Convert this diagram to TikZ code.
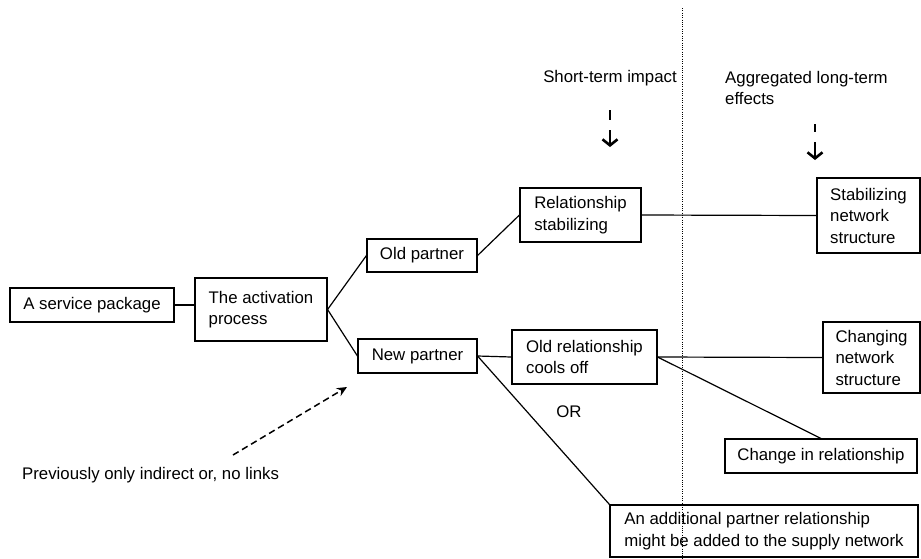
\documentclass[tikz,border=0pt]{standalone}
\usepackage{fontspec}
\setmainfont{Liberation Sans}
\usetikzlibrary{arrows.meta}

\begin{document}
\begin{tikzpicture}[x=1pt,y=-1pt,
  box/.style={draw,line width=1.1pt,align=left,inner sep=0pt,font=\fontsize{16.8}{21.5}\selectfont},
  lbl/.style={align=left,inner sep=0pt,font=\fontsize{16.8}{21.5}\selectfont},
  link/.style={line width=1.2pt},
  cue/.style={line width=2.6pt,-{Straight Barb[length=6pt,width=15pt]}}]
  \useasboundingbox (0,0) rectangle (921,558);
  % the offer and what it starts
  \node[box,minimum width=164,minimum height=34] (pkg) at (92,305) {A service package};
  \node[box,minimum width=132,minimum height=63] (act) at (261,309.5) {The activation\\process};
  \node[box,minimum width=110,minimum height=33] (old) at (422,255.5) {Old partner};
  \node[box,minimum width=119,minimum height=34] (newp) at (417.5,356) {New partner};
  % short-term impact
  \node[box,minimum width=121,minimum height=54] (rstab) at (580.5,215) {Relationship\\stabilizing};
  \node[box,minimum width=145,minimum height=54] (cool) at (584.5,357) {Old relationship\\cools off};
  % aggregated long-term effects
  \node[box,minimum width=103,minimum height=75] (snet) at (868.5,215.5) {Stabilizing\\network\\structure};
  \node[box,minimum width=97,minimum height=71] (cnet) at (871.5,357.5) {Changing\\network\\structure};
  \node[box,minimum width=192,minimum height=34] (chrel) at (821,456) {Change in relationship};
  \node[box,minimum width=308,minimum height=52] (addl) at (764,531) {An additional partner relationship\\might be added to the supply network};
  % links between the boxes
  \draw[link] (pkg.east) -- (pkg.east -| act.west);
  \draw[link] (act.east) -- (old.west);
  \draw[link] (act.east) -- (newp.west);
  \draw[link] (old.east) -- (rstab.west);
  \draw[link] (newp.east) -- (cool.west);
  \draw[link] (newp.east) -- (addl.north west);
  \draw[link] (rstab.east) -- (snet.west);
  \draw[link] (cool.east) -- (cnet.west);
  \draw[link] (cool.east) -- (chrel.north);
  \node[lbl] (or) at (569,412) {OR};
  % column headings with their pointers
  \node[lbl] (short) at (610,78) {Short-term impact};
  \node[lbl,anchor=west] (aggr) at (725,88) {Aggregated long-term\\effects};
  \draw[line width=2.6pt] (610,110) -- (610,120);
  \draw[cue] (610,130) -- (610,147);
  \draw[line width=2.6pt] (815,124) -- (815,132);
  \draw[cue] (815,142) -- (815,160);
  % partners that were not linked before
  \node[lbl,anchor=west] (prev) at (22,475) {Previously only indirect or, no links};
  \coordinate (p1) at (233,455);
  \coordinate (p2) at (347,387);
  \draw[line width=1.5pt,dash pattern=on 6.5pt off 4pt,-{Stealth[length=10pt,width=9pt]}] (p1) -- (p2);
  % border between the two time spans
  \draw[line width=1pt,dash pattern=on 1pt off 1.3pt] (682,8) -- (682,558);
\end{tikzpicture}
\end{document}
